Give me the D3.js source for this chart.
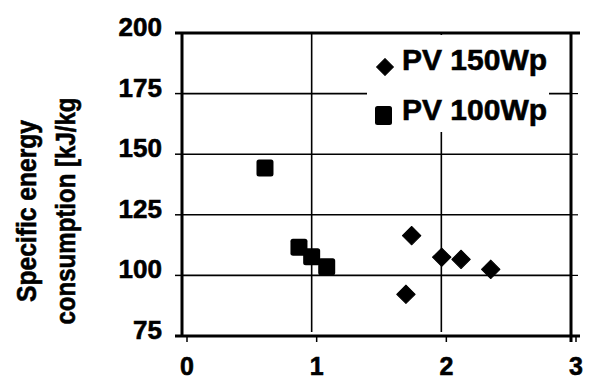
<!DOCTYPE html>
<html>
<head>
<meta charset="utf-8">
<script src="https://cdn.jsdelivr.net/npm/d3@7"></script>
<style>
  body { margin: 0; background: #fff; }
  svg { display: block; }
  text { font-family: "Liberation Sans", Arial, sans-serif; font-weight: bold; fill: #000;
         stroke: #000; stroke-width: 0.6px; }
</style>
</head>
<body>
<div id="chart"></div>
<script>
// values
var xTicks = [0, 1, 2, 3];
var yTicks = [75, 100, 125, 150, 175, 200];
var seriesNames = ["PV 150Wp", "PV 100Wp"];
var pv150X = [1.727, 1.771, 2.003, 2.152, 2.381];
var pv150Y = [92.2, 116.4, 107.5, 106.6, 102.5];
var pv100X = [0.64, 0.902, 1.0, 1.116];
var pv100Y = [144.3, 111.6, 107.7, 103.6];
var titleLines = ["Specific energy", "consumption [kJ/kg"];

var width = 589, height = 381;
var svg = d3.select("#chart").append("svg")
  .attr("width", width)
  .attr("height", height);

// plot area
var plotLeft = 182, plotRight = 571, plotTop = 33, plotBottom = 336;
var x = d3.scaleLinear().domain([0, 3]).range([plotLeft, plotRight]);
var y = d3.scaleLinear().domain([75, 200]).range([plotBottom, plotTop]);

// horizontal grid lines
svg.append("g").selectAll("line")
  .data(yTicks.slice(1, -1))
  .enter().append("line")
  .attr("x1", plotLeft).attr("x2", plotRight)
  .attr("y1", function (d) { return y(d); })
  .attr("y2", function (d) { return y(d); })
  .attr("stroke", "#000").attr("stroke-width", 1.6);

// vertical grid lines
svg.append("g").selectAll("line")
  .data([1, 2])
  .enter().append("line")
  .attr("x1", function (d) { return x(d); })
  .attr("x2", function (d) { return x(d); })
  .attr("y1", plotTop).attr("y2", plotBottom - 4)
  .attr("stroke", "#000").attr("stroke-width", 1.6);

// legend background hides the grid under it
svg.append("rect")
  .attr("x", 367).attr("y", plotTop + 2)
  .attr("width", 182).attr("height", 97)
  .attr("fill", "#fff");

// frame
var frame = svg.append("g").attr("stroke", "#000").attr("stroke-width", 3);
frame.append("line").attr("x1", 175).attr("x2", 580).attr("y1", plotTop).attr("y2", plotTop);
frame.append("line").attr("x1", 175).attr("x2", 580).attr("y1", plotBottom).attr("y2", plotBottom);
frame.append("line").attr("x1", plotLeft).attr("x2", plotLeft).attr("y1", plotTop).attr("y2", plotBottom);
frame.append("line").attr("x1", plotRight).attr("x2", plotRight).attr("y1", plotTop).attr("y2", plotBottom + 6);

// y ticks (outward) and the small marks on the right edge
svg.append("g").selectAll("line")
  .data(yTicks)
  .enter().append("line")
  .attr("x1", 175).attr("x2", plotLeft)
  .attr("y1", function (d) { return y(d); })
  .attr("y2", function (d) { return y(d); })
  .attr("stroke", "#000").attr("stroke-width", 1.5);
svg.append("g").selectAll("line")
  .data(yTicks.slice(1, -1))
  .enter().append("line")
  .attr("x1", plotRight).attr("x2", plotRight + 7)
  .attr("y1", function (d) { return y(d); })
  .attr("y2", function (d) { return y(d); })
  .attr("stroke", "#000").attr("stroke-width", 1.2);

// x ticks (downward)
svg.append("g").selectAll("line")
  .data(xTicks)
  .enter().append("line")
  .attr("x1", function (d) { return x(d) + 5; })
  .attr("x2", function (d) { return x(d) + 5; })
  .attr("y1", plotBottom).attr("y2", plotBottom + 6)
  .attr("stroke", "#000").attr("stroke-width", 1.5);

// y tick labels
svg.append("g").selectAll("text")
  .data(yTicks)
  .enter().append("text")
  .attr("x", 162)
  .attr("y", function (d) { return y(d) + 3; })
  .attr("text-anchor", "end")
  .style("font-size", "26px")
  .text(function (d) { return d; });

// x tick labels
svg.append("g").selectAll("text")
  .data(xTicks)
  .enter().append("text")
  .attr("x", function (d) { return x(d) + 5; })
  .attr("y", 375)
  .attr("text-anchor", "middle")
  .style("font-size", "25px")
  .text(function (d) { return d; });

// y axis title, two rotated lines
var titleLen = [182, 227];
var titleBase = [36, 75];
svg.append("g").selectAll("text")
  .data(titleLines)
  .enter().append("text")
  .attr("transform", function (d, i) {
    return "translate(" + titleBase[i] + ",211) rotate(-90)";
  })
  .attr("text-anchor", "middle")
  .attr("textLength", function (d, i) { return titleLen[i]; })
  .attr("lengthAdjust", "spacingAndGlyphs")
  .style("font-size", "27px")
  .text(function (d) { return d; });

// markers
var diamond = d3.symbol().type(d3.symbolSquare).size(13 * 13);
var pv150 = pv150X.map(function (v, i) { return [v, pv150Y[i]]; });
var pv100 = pv100X.map(function (v, i) { return [v, pv100Y[i]]; });

svg.append("g").selectAll("path")
  .data(pv150)
  .enter().append("path")
  .attr("d", diamond)
  .attr("transform", function (d) {
    return "translate(" + x(d[0]) + "," + y(d[1]) + ") rotate(45)";
  })
  .attr("fill", "#000")
  .attr("stroke", "#000").attr("stroke-width", 1).attr("stroke-linejoin", "round");

svg.append("g").selectAll("rect")
  .data(pv100)
  .enter().append("rect")
  .attr("x", function (d) { return x(d[0]) - 8.5; })
  .attr("y", function (d) { return y(d[1]) - 8.5; })
  .attr("width", 17).attr("height", 17)
  .attr("rx", 2.5)
  .attr("fill", "#000");

// legend
var legend = svg.append("g");
legend.append("path")
  .attr("d", d3.symbol().type(d3.symbolSquare).size(12 * 12))
  .attr("transform", "translate(385,67) rotate(45)")
  .attr("fill", "#000")
  .attr("stroke", "#000").attr("stroke-width", 1).attr("stroke-linejoin", "round");
legend.append("rect")
  .attr("x", 375).attr("y", 106)
  .attr("width", 17).attr("height", 19)
  .attr("rx", 2.5)
  .attr("fill", "#000");
legend.selectAll("text.lab")
  .data(seriesNames)
  .enter().append("text")
  .attr("class", "lab")
  .attr("x", 402)
  .attr("y", function (d, i) { return 70 + i * 50; })
  .style("font-size", "30px")
  .text(function (d) { return d; });
</script>
</body>
</html>
